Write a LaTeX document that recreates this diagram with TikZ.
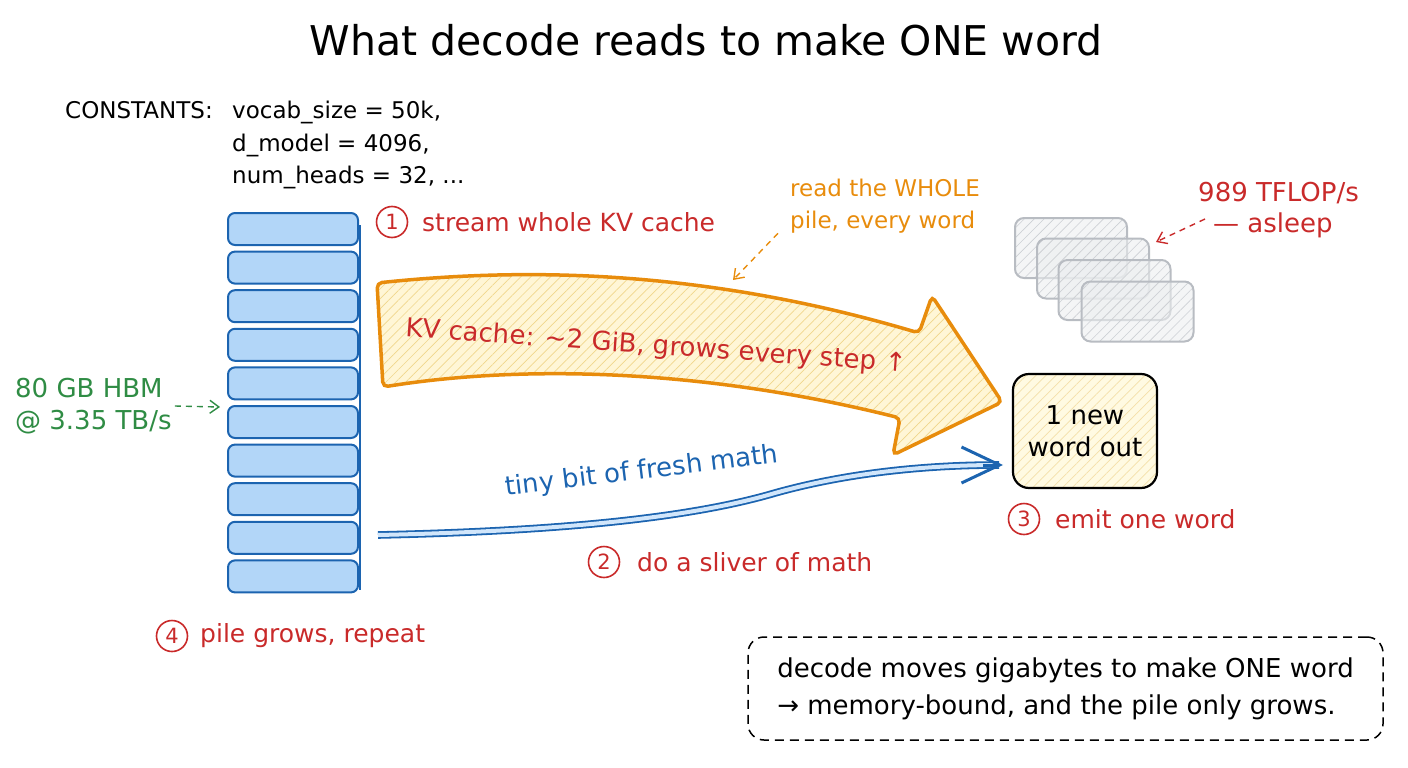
\documentclass[tikz,border=0pt]{standalone}
\usepackage{fontspec}
\setmainfont{DejaVu Sans}
\usepackage{xcolor}
\usetikzlibrary{arrows.meta}
\usetikzlibrary{patterns.meta}

\definecolor{inkred}{RGB}{201,42,42}
\definecolor{inkorange}{RGB}{232,140,12}
\definecolor{inkblue}{RGB}{28,100,176}
\definecolor{inkgreen}{RGB}{47,140,68}
\definecolor{kvfill}{RGB}{178,214,248}
\definecolor{arrowfill}{RGB}{255,246,214}
\definecolor{hatchyellow}{RGB}{240,214,140}
\definecolor{outfill}{RGB}{255,250,226}
\definecolor{gpugray}{RGB}{184,188,194}
\definecolor{gpufill}{RGB}{236,238,240}

\begin{document}
\begin{tikzpicture}[x=1pt,y=-1pt]
\tikzset{>={Straight Barb[length=9pt,width=13pt]}}
\tikzstyle{txt} =[inner sep=0pt,font=\fontsize{25}{32}\selectfont]
\tikzstyle{redtxt} =[txt,text=inkred]
\tikzstyle{hint} =[->,dash pattern=on 6pt off 5pt,line width=1.4pt]
\tikzstyle{numc} =[circle,draw=inkred,line width=1.6pt,minimum size=31pt,inner sep=0pt,text=inkred,font=\fontsize{21}{24}\selectfont]
\tikzstyle{kvrow} =[draw=inkblue,fill=kvfill,line width=2pt,rounded corners=7pt,minimum width=130pt,minimum height=32pt,inner sep=0pt]
\tikzstyle{gpu} =[draw=gpugray,line width=2pt,rounded corners=9pt,minimum width=112pt,minimum height=60pt,preaction={fill=gpufill,fill opacity=0.6},pattern={Lines[angle=45,distance=7pt,line width=0.6pt]},pattern color=gpugray!70]
\tikzstyle{yhatch} =[preaction={fill=arrowfill},pattern={Lines[angle=45,distance=7pt,line width=0.7pt]},pattern color=hatchyellow]

\useasboundingbox (0,0) rectangle (1408,768);

% title and constants
\node[txt,font=\fontsize{41}{48}\selectfont] (title) at (706,40) {What decode reads to make ONE word};
\node[txt,anchor=base west,font=\fontsize{23}{28}\selectfont] (consts) at (65,118) {CONSTANTS:};
\node[txt,anchor=base west,font=\fontsize{23}{28}\selectfont] (vocab) at (232,118) {vocab\_size = 50k,};
\node[txt,anchor=base west,font=\fontsize{23}{28}\selectfont] (dmodel) at (232,151) {d\_model = 4096,};
\node[txt,anchor=base west,font=\fontsize{23}{28}\selectfont] (nheads) at (232,183) {num\_heads = 32, ...};

% the KV pile
\node[kvrow](c1) at (293,229){};
\node[kvrow](c2) at (293,267.6){};
\node[kvrow](c3) at (293,306.2){};
\node[kvrow](c4) at (293,344.8){};
\node[kvrow](c5) at (293,383.4){};
\node[kvrow](c6) at (293,422){};
\node[kvrow](c7) at (293,460.6){};
\node[kvrow](c8) at (293,499.2){};
\node[kvrow](c9) at (293,537.8){};
\node[kvrow](c10) at (293,576.4){};
\draw[inkblue,line width=1.8pt] ([xshift=1pt,yshift=-13pt]c1.north east) -- ([xshift=1pt,yshift=3pt]c10.south east);

\node[txt,text=inkgreen,anchor=west,align=left,font=\fontsize{26}{32}\selectfont] (hbm) at (15,406) {80 GB HBM\\@ 3.35 TB/s};
\coordinate (hbmtip) at (220,407);
\draw[hint,inkgreen] ([xshift=3pt]hbm.east) -- (hbmtip);

% step 1 and the big arrow
\node[numc] (n1) at (392,222) {1};
\node[redtxt,anchor=west] (s1) at (422,222) {stream whole KV cache};

\node[txt,text=inkorange,anchor=west,align=left,font=\fontsize{23}{32}\selectfont] (whole) at (790,206) {read the WHOLE\\pile, every word};
\coordinate (wholetip) at (733,280);
\draw[hint,inkorange] ([xshift=-12pt]whole.south west) -- (wholetip);

\draw[inkorange,line width=3.5pt,rounded corners=5pt,yhatch] (377,283) .. controls (520,268) and (700,268) .. (919,333) -- (932,296) -- (1002,402) -- (893,455) -- (900,418) .. controls (700,368) and (520,365) .. (383,387) -- cycle;
\node[redtxt,rotate=-4,font=\fontsize{26}{32}\selectfont] (kvtxt) at (656,347) {KV cache: \textasciitilde 2 GiB, grows every step ↑};

% idle compute
\node[gpu] (g1) at (1071,248) {};
\node[gpu] (g2) at (1093,268.5) {};
\node[gpu] (g3) at (1114.5,290) {};
\node[gpu] (g4) at (1137.5,311.5) {};
\node[redtxt,anchor=west,font=\fontsize{26}{32}\selectfont] (tflops) at (1198,193) {989 TFLOP/s};
\node[redtxt,anchor=west,font=\fontsize{26}{32}\selectfont] (asleep) at (1213,225) {— asleep};
\coordinate (gputip) at (1156,242);
\draw[hint,inkred] ([xshift=-8pt,yshift=6pt]asleep.west) -- (gputip);

% output word
\node[draw=black,line width=2.2pt,rounded corners=16pt,minimum width=144pt,minimum height=114pt,align=center,yhatch,preaction={fill=outfill},pattern color=hatchyellow!75,font=\fontsize{26}{32}\selectfont] (out) at (1085,431) {1 new\\word out};

% the thin math path
\coordinate (mathstart) at (378,535);
\coordinate (mathtip) at (1003,465);
\draw[inkblue,line width=1.8pt,double=kvfill!60,double distance=4pt] (mathstart) .. controls (560,531) and (690,518) .. (775,493) .. controls (850,472) and (930,465) .. ([xshift=-4pt]mathtip);
\draw[inkblue,line width=3pt,-{Straight Barb[length=38pt,width=36pt,line width=3pt]}] ([xshift=-20pt]mathtip) -- (mathtip);
\node[txt,text=inkblue,rotate=7,font=\fontsize{26}{32}\selectfont] (fresh) at (642,472) {tiny bit of fresh math};

\node[numc] (n2) at (604,562) {2};
\node[redtxt,anchor=west] (s2) at (637,562) {do a sliver of math};
\node[numc] (n3) at (1024,519) {3};
\node[redtxt,anchor=west] (s3) at (1055,519) {emit one word};
\node[numc] (n4) at (172,636) {4};
\node[redtxt,anchor=west] (s4) at (200,636) {pile grows, repeat};

% takeaway
\node[draw=black,dash pattern=on 9pt off 6pt,line width=1.5pt,rounded corners=16pt,minimum width=635pt,minimum height=103pt,align=left,inner sep=0pt,font=\fontsize{26}{37}\selectfont] (note) at (1065.5,688.5) {decode moves gigabytes to make ONE word\\→ memory-bound, and the pile only grows.};
\end{tikzpicture}
\end{document}
